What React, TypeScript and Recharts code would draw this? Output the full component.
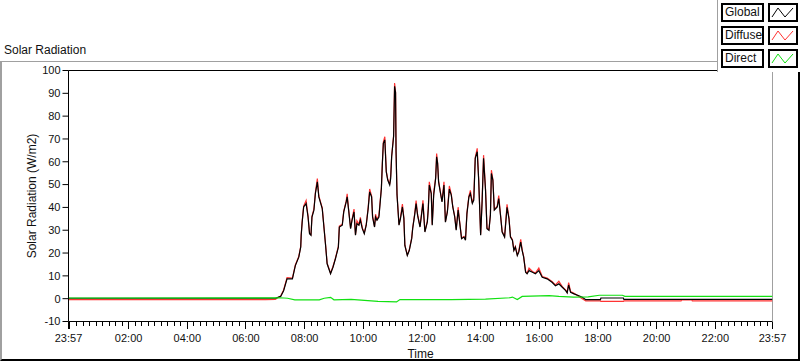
import { LineChart, Line, XAxis, YAxis, ReferenceLine } from "recharts";

// minutes after midnight (-3 = 23:57 of the day before)
const globalTime = [
  -3, 400, 420, 431, 437, 444, 455, 461, 468, 472, 473, 475, 478, 483, 487, 490, 493, 495, 499, 502,
  506, 509, 516, 523, 526, 533, 538, 543, 549, 551, 557, 560, 565, 567, 570, 574, 577, 581, 584, 587,
  591, 594, 598, 602, 606, 610, 613, 617, 619, 623, 625, 628, 632, 637, 639, 641, 644, 647, 650, 654,
  656, 658, 660, 662, 664, 666, 667, 669, 673, 676, 680, 683, 685, 690, 694, 699, 701, 705, 708, 711,
  716, 719, 722, 726, 731, 733, 735, 739, 741, 744, 748, 750, 752, 754, 758, 761, 765, 768, 772, 776,
  780, 783, 787, 790, 794, 797, 801, 806, 809, 812, 816, 819, 823, 826, 829, 833, 836, 840, 843, 846,
  850, 853, 857, 860, 862, 865, 868, 874, 877, 881, 884, 889, 894, 898, 901, 905, 908, 911, 915, 918,
  922, 925, 928, 932, 935, 939, 946, 952, 959, 966, 976, 986, 993, 1000, 1007, 1014, 1017, 1020, 1024, 1031,
  1041, 1048, 1055, 1085, 1086, 1132, 1133, 1250, 1251, 1272, 1273, 1437,
];

const globalValues = [
  0.2, 0.2, 0.2, 1.0, 3.5, 8.7, 8.7, 14.5, 18.2, 22.6, 27.8, 33.6, 40.2, 41.7, 35.8, 28.5, 27.8, 35.8, 38.8, 46.1,
  51.2, 44.6, 39.5, 23.0, 15.3, 10.9, 13.8, 17.5, 22.6, 31.4, 32.2, 38.0, 42.4, 44.6, 38.8, 30.7, 34.4, 38.0, 27.8, 32.9,
  32.2, 34.4, 30.7, 28.5, 32.2, 39.5, 46.8, 44.6, 35.8, 31.4, 35.8, 34.4, 35.8, 48.3, 59.3, 68.1, 69.6, 55.6, 52.0, 49.8,
  52.7, 62.2, 66.7, 71.1, 93.1, 90.2, 64.4, 45.4, 32.2, 35.1, 40.2, 35.1, 23.3, 18.9, 21.1, 26.3, 30.7, 36.6, 41.7, 36.6,
  31.4, 36.6, 41.7, 29.2, 33.6, 39.5, 49.8, 46.1, 32.2, 45.4, 52.7, 62.2, 59.3, 51.2, 46.1, 42.4, 49.8, 33.5, 38.0, 48.0,
  45.4, 40.2, 35.8, 30.0, 38.8, 33.6, 26.3, 27.0, 25.6, 37.3, 44.6, 46.1, 41.7, 43.2, 61.5, 64.4, 52.0, 27.8, 42.4, 61.5,
  47.6, 30.7, 30.0, 36.6, 54.9, 52.0, 38.8, 40.2, 43.9, 35.8, 29.2, 27.0, 40.0, 35.0, 27.0, 25.6, 21.1, 22.6, 18.9, 20.4,
  24.8, 21.1, 18.2, 11.6, 10.9, 12.3, 11.6, 10.9, 12.3, 9.4, 8.7, 7.2, 5.7, 6.5, 5.0, 3.5, 2.5, 6.0, 2.8, 2.1,
  1.3, 0.6, -0.45, -0.45, 0.3, 0.3, -0.3, -0.3, -0.3, -0.3, -0.3, -0.3,
];

const diffuseValues = [
  -0.45, -0.45, -0.3, 1.2, 3.8, 9.2, 9.0, 14.8, 18.5, 22.9, 28.1, 33.9, 40.6, 43.0, 36.1, 28.8, 28.1, 36.1, 39.3, 46.5,
  52.6, 45.0, 39.8, 23.3, 15.6, 11.2, 14.1, 17.8, 22.9, 31.8, 32.6, 38.4, 42.8, 46.0, 39.1, 31.0, 34.8, 39.3, 28.1, 34.1,
  32.5, 35.6, 31.0, 28.8, 32.6, 40.0, 48.1, 45.0, 36.1, 31.7, 37.0, 34.7, 36.6, 48.7, 59.6, 68.6, 71.0, 55.9, 52.3, 50.1,
  53.9, 62.5, 67.0, 71.5, 94.5, 90.6, 64.7, 45.7, 32.5, 35.5, 41.5, 35.4, 23.6, 19.2, 21.4, 26.6, 31.0, 37.0, 43.0, 36.9,
  31.7, 37.0, 43.1, 29.5, 34.0, 40.0, 51.2, 46.4, 32.5, 46.6, 53.1, 63.6, 59.6, 51.5, 46.4, 42.7, 51.2, 33.8, 38.4, 49.4,
  45.7, 40.5, 36.1, 30.3, 40.1, 33.9, 26.6, 27.3, 25.9, 37.7, 45.0, 47.5, 42.0, 44.4, 62.0, 65.9, 52.3, 28.1, 42.8, 62.9,
  47.9, 31.0, 30.3, 37.0, 56.3, 52.3, 39.1, 40.6, 45.2, 36.1, 29.5, 27.3, 41.4, 35.3, 27.3, 25.9, 21.4, 22.9, 19.2, 20.8,
  26.0, 21.4, 18.5, 11.9, 11.2, 13.4, 11.9, 11.2, 13.4, 9.7, 9.0, 7.5, 6.0, 7.6, 5.3, 3.8, 2.8, 7.0, 3.1, 2.4,
  1.0, 0.0, -1.0, -1.0, -1.2, -1.2, -1.0, -1.0, -0.5, -0.5, -1.0, -1.0,
];

const directTime = [
  -3, 430, 445, 460, 510, 520, 533, 540, 575, 630, 668, 675, 780, 850, 900, 905, 915, 925, 980, 1000,
  1030, 1060, 1083, 1130, 1135, 1437,
];

const directValues = [
  0.3, 0.4, 0.2, -0.5, -0.5, 0.2, 0.6, -0.5, -0.3, -1.2, -1.4, -0.4, -0.4, -0.2, 0.4, 0.7, -0.4, 1.0, 1.3, 1.0,
  0.7, 0.8, 1.5, 1.5, 1.0, 1.0,
];

const yTicks = [-10, 0, 10, 20, 30, 40, 50, 60, 70, 80, 90, 100];
const majorTicks = [-3, 0, 120, 240, 360, 480, 600, 720, 840, 960, 1080, 1200, 1320, 1437];
const majorLabels = ["23:57", "", "02:00", "04:00", "06:00", "08:00", "10:00", "12:00", "14:00", "16:00", "18:00", "20:00", "22:00", "23:57"];

const seriesNames = ["Global", "Diffuse", "Direct"];
const seriesColors = ["#000000", "#ff3333", "#11e011"];

// minor ticks: 8 between each pair of labelled ticks
const minorTicks: number[] = [];
for (let k = 1; k * 40 / 3 < 1437; k++) {
  if (k % 9 !== 0) minorTicks.push(k * 40 / 3);
}
const allTicks = [...majorTicks, ...minorTicks].sort((a, b) => a - b);

const mainData = globalTime.map((t, i) => ({ t, global: globalValues[i], diffuse: diffuseValues[i] }));
const directData = directTime.map((t, i) => ({ t, direct: directValues[i] }));

const FONT = "'Liberation Sans', Arial, sans-serif";

function TimeTick(props: any) {
  const { x, y, payload } = props;
  const idx = majorTicks.indexOf(payload.value);
  const major = idx >= 0;
  return (
    <g>
      <line x1={x} x2={x} y1={y} y2={y + (major ? 7 : 4)} stroke="#000" shapeRendering="crispEdges" />
      {major && majorLabels[idx] && (
        <text x={x} y={y + 20} textAnchor="middle" fontSize={11} fill="#111" fontFamily={FONT}>
          {majorLabels[idx]}
        </text>
      )}
    </g>
  );
}

function Glyph({ color }: { color: string }) {
  return (
    <svg width={25} height={15} style={{ display: "block" }}>
      <polyline points="2,12 8,3 15,12 23,3" fill="none" stroke={color} strokeWidth={1} />
    </svg>
  );
}

function PlotLegend() {
  return (
    <div
      style={{
        position: "absolute",
        left: 717,
        top: 0,
        width: 83,
        height: 72,
        background: "#fff",
        borderLeft: "1px solid #a0a0a0",
        boxSizing: "border-box",
      }}
    >
      {seriesNames.map((name, i) => (
        <div key={name}>
          <div
            style={{
              position: "absolute",
              left: 3,
              top: 3 + i * 23,
              width: 43,
              height: 19,
              border: "2px solid #000",
              boxSizing: "border-box",
              fontSize: 12,
              lineHeight: "15px",
              paddingLeft: 2,
              color: "#111",
            }}
          >
            {name}
          </div>
          <div
            style={{
              position: "absolute",
              left: 50,
              top: 3 + i * 23,
              width: 30,
              height: 19,
              border: "2px solid #000",
              boxSizing: "border-box",
              background: "#fff",
            }}
          >
            <Glyph color={seriesColors[i]} />
          </div>
        </div>
      ))}
    </div>
  );
}

export default function App() {
  return (
    <div style={{ position: "absolute", left: 0, top: 0, width: 800, height: 361, background: "#fff", fontFamily: FONT, overflow: "hidden" }}>
      <div
        style={{
          position: "absolute",
          left: 0,
          top: 61,
          width: 800,
          height: 300,
          boxSizing: "border-box",
          borderTop: "1px solid #a0a0a0",
          borderLeft: "2px solid #a0a0a0",
          borderRight: "2px solid #000",
          borderBottom: "2px solid #000",
        }}
      />
      <div style={{ position: "absolute", left: 4, top: 43, fontSize: 12, color: "#111" }}>Solar Radiation</div>
      <div style={{ position: "absolute", left: 0, top: 0 }}>
        <LineChart width={800} height={361} data={mainData} margin={{ top: 70.5, right: 27.5, left: 0, bottom: 0 }}>
          <XAxis
            dataKey="t"
            type="number"
            domain={[-3, 1437]}
            ticks={allTicks}
            interval={0}
            tick={<TimeTick />}
            tickLine={false}
            tickSize={0}
            tickMargin={0}
            height={39.5}
            axisLine={{ stroke: "#000" }}
            allowDataOverflow
            label={{ value: "Time", position: "insideBottom", offset: 3, style: { fontSize: 12, fill: "#111" } }}
          />
          <YAxis
            type="number"
            domain={[-10, 100]}
            ticks={yTicks}
            interval={0}
            width={68.5}
            tickSize={6}
            tickMargin={2}
            axisLine={{ stroke: "#000" }}
            tickLine={{ stroke: "#000" }}
            tick={{ fontSize: 11, fill: "#111" }}
            allowDataOverflow
            label={{
              value: "Solar Radiation (W/m2)",
              angle: -90,
              position: "insideLeft",
              offset: 32,
              style: { textAnchor: "middle", fontSize: 12, fill: "#111" },
            }}
          />
          <ReferenceLine y={100} stroke="#000" />
          <ReferenceLine x={1437} stroke="#a0a0a0" />
          <Line type="linear" dataKey="diffuse" name="Diffuse" stroke={seriesColors[1]} strokeWidth={1.2} dot={false} isAnimationActive={false} />
          <Line type="linear" dataKey="global" name="Global" stroke={seriesColors[0]} strokeWidth={1.2} dot={false} isAnimationActive={false} />
          <Line
            type="linear"
            data={directData}
            dataKey="direct"
            name="Direct"
            stroke={seriesColors[2]}
            strokeWidth={1.2}
            dot={false}
            isAnimationActive={false}
          />
        </LineChart>
      </div>
      <PlotLegend />
    </div>
  );
}
